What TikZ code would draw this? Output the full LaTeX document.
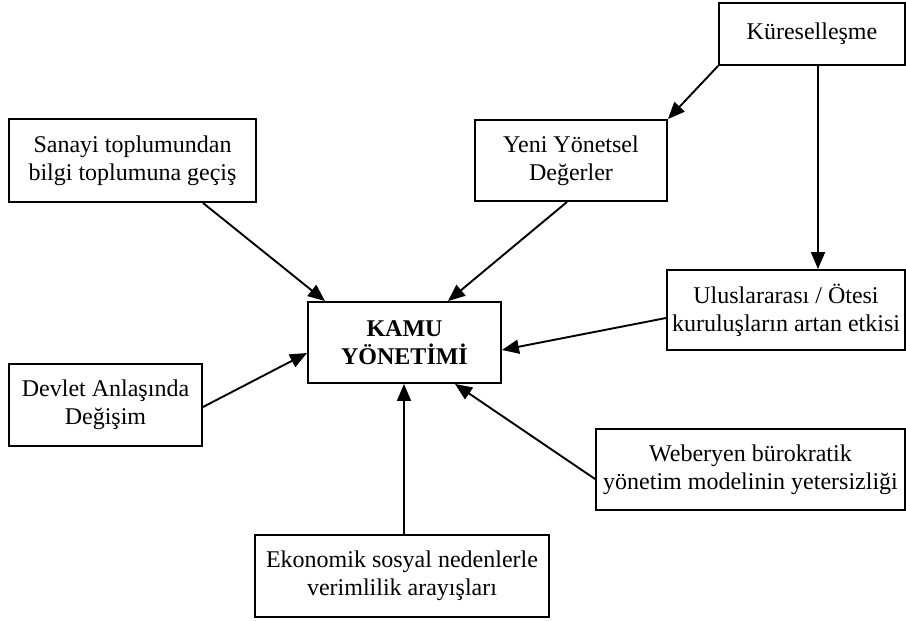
\documentclass[tikz,border=0pt]{standalone}
\usepackage{fontspec}
\setmainfont{Liberation Serif}
\usetikzlibrary{arrows.meta,calc}
\begin{document}
\begin{tikzpicture}[x=1pt,y=-1pt,
  box/.style={draw=black,line width=1.9pt,inner sep=0pt,align=center,
    font=\fontsize{24}{28}\selectfont},
  conn/.style={draw=black,line width=1.9pt,-{Triangle[length=17pt,width=14pt]}}]
\useasboundingbox (0,0) rectangle (906,621);
\node[box,minimum width=186pt,minimum height=62pt] (kur) at (812,34) {Küreselleşme};
\node[box,minimum width=192pt,minimum height=81pt] (yeni) at (571,160.5) {Yeni Yönetsel\\Değerler};
\node[box,minimum width=247pt,minimum height=83pt] (san) at (132.5,160.5) {Sanayi toplumundan\\bilgi toplumuna geçiş};
\node[box,minimum width=193pt,minimum height=81pt,font=\fontsize{24}{28}\selectfont\bfseries] (kamu) at (404.5,342.5) {KAMU\\YÖNETİMİ};
\node[box,minimum width=238pt,minimum height=80pt] (ulus) at (786,310) {Uluslararası / Ötesi\\kuruluşların artan etkisi};
\node[box,minimum width=193pt,minimum height=82pt] (dev) at (105.5,405) {Devlet Anlaşında\\Değişim};
\node[box,minimum width=309pt,minimum height=81pt] (web) at (750.5,469.5) {Weberyen bürokratik\\yönetim modelinin yetersizliği};
\node[box,minimum width=294pt,minimum height=82pt] (eko) at (402,576) {Ekonomik sosyal nedenlerle\\verimlilik arayışları};
\coordinate (kurs) at ($(kur.south)+(6,0)$);
\coordinate (ekon) at ($(eko.north)+(2,0)$);
\draw[conn] (kur.south west) -- (yeni.north east);
\draw[conn] (kurs) -- (kurs |- ulus.north);
\draw[conn] ($(san.south)+(70.5,0)$) -- ($(kamu.north)+(-79.5,0)$);
\draw[conn] ($(yeni.south)+(-4,0)$) -- ($(kamu.north)+(43.5,0)$);
\draw[conn] ($(ulus.west)+(0,8)$) -- ($(kamu.east)+(0,7.5)$);
\draw[conn] ($(dev.east)+(0,2)$) -- ($(kamu.west)+(0,10.5)$);
\draw[conn] ($(web.west)+(0,9.5)$) -- ($(kamu.south)+(50.5,0)$);
\draw[conn] (ekon) -- (ekon |- kamu.south);
\end{tikzpicture}
\end{document}
